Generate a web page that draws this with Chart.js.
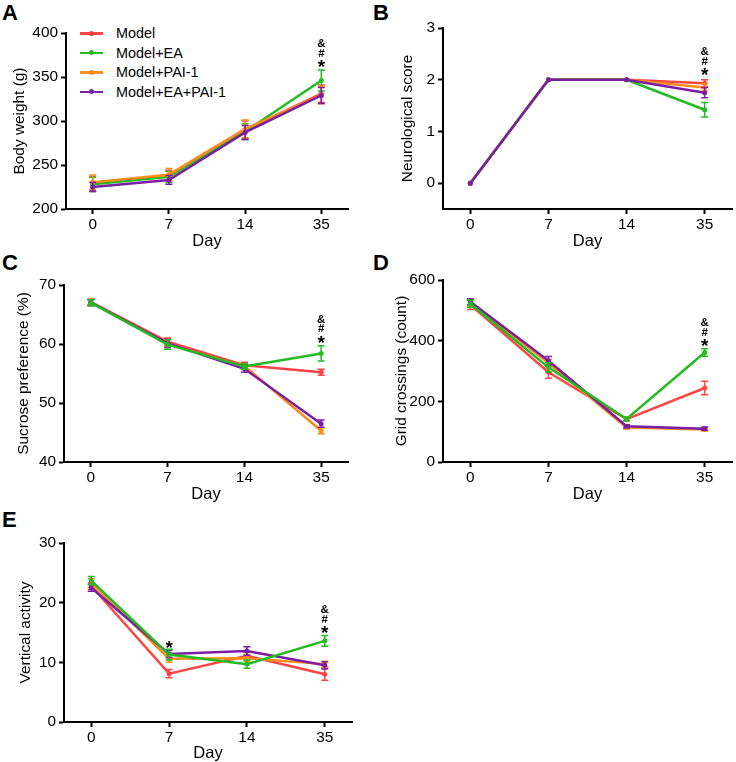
<!DOCTYPE html>
<html>
<head>
<meta charset="utf-8">
<script src="https://cdn.jsdelivr.net/npm/chart.js@4.4.1/dist/chart.umd.min.js"></script>
<style>
  body { margin: 0; background: #fff; width: 736px; height: 762px; position: relative; overflow: hidden;
         font-family: "Liberation Sans", Arial, sans-serif; }
  canvas { position: absolute; }
  .tag { position: absolute; font-weight: bold; font-size: 22px; line-height: 1; color: #000; }
  .leg { position: absolute; font-size: 14.4px; line-height: 1; color: #000; white-space: nowrap; }
  .leg i { position: absolute; left: -36px; top: 6px; width: 23px; height: 2.5px; }
  .leg b { position: absolute; left: -27px; top: 4.5px; width: 5px; height: 5px; border-radius: 50%; }
</style>
</head>
<body>
<div class="tag" style="left:2px;top:2px">A</div>
<div class="tag" style="left:373px;top:2px">B</div>
<div class="tag" style="left:2px;top:252px">C</div>
<div class="tag" style="left:373px;top:252px">D</div>
<div class="tag" style="left:2px;top:509px">E</div>
<div id="legend"></div>
<script>
// ---- data ----
var days = ['0', '7', '14', '35'];
var seriesNames = ['Model', 'Model+EA', 'Model+PAI-1', 'Model+EA+PAI-1'];
var seriesColors = ['#ff4444', '#22bb22', '#ff8c1a', '#7b1fa2'];

// rows = series (Model, Model+EA, Model+PAI-1, Model+EA+PAI-1), cols = days
var weightMean = [[229, 238, 290, 331], [228, 236.5, 288, 346], [230.5, 239, 291, 329.5], [225, 233, 287, 329]];
var weightSem  = [[8, 6, 10, 10], [8, 6, 9, 12], [8, 7, 10, 10], [5, 5, 8, 9]];
var weightTicks = [200, 250, 300, 350, 400];

var neuroMean = [[0, 2, 2, 1.93], [0, 2, 2, 1.42], [0, 2, 2, 1.85], [0, 2, 2, 1.75]];
var neuroSem  = [[0, 0, 0, 0.07], [0, 0, 0, 0.14], [0, 0, 0, 0.07], [0, 0, 0, 0.1]];
var neuroTicks = [0, 1, 2, 3];

var sucroseMean = [[67.1, 60.4, 56.4, 55.2], [67.0, 59.9, 56.2, 58.4], [67.1, 60.2, 56.3, 45.3], [67.0, 60.1, 55.8, 46.5]];
var sucroseSem  = [[0.5, 0.6, 0.5, 0.5], [0.5, 0.8, 0.5, 1.3], [0.5, 0.6, 0.5, 0.5], [0.5, 0.7, 0.6, 0.6]];
var sucroseTicks = [40, 50, 60, 70];

var gridMean = [[518, 296, 141, 244], [522, 312, 142, 361], [525, 326, 114, 107], [528, 334, 118, 110]];
var gridSem  = [[15, 20, 5, 22], [12, 15, 6, 12], [12, 12, 5, 5], [10, 14, 5, 5]];
var gridTicks = [0, 200, 400, 600];

var vertMean = [[22.8, 8.1, 11.1, 8.0], [23.7, 11.3, 9.7, 13.6], [23.3, 10.6, 10.7, 9.7], [22.5, 11.4, 11.9, 9.5]];
var vertSem  = [[0.6, 0.7, 0.6, 1.0], [0.7, 0.9, 0.7, 0.9], [0.7, 0.6, 0.5, 0.5], [0.6, 0.6, 0.7, 0.6]];
var vertTicks = [0, 10, 20, 30];

// significance marks: day index, anchor value, symbols bottom->top
var weightMarks  = [{ day: 3, y: 366, marks: ['*', '#', '&'] }];
var neuroMarks   = [{ day: 3, y: 2.17, marks: ['*', '#', '&'] }];
var sucroseMarks = [{ day: 3, y: 61, marks: ['*', '#', '&'] }];
var gridMarks    = [{ day: 3, y: 397, marks: ['*', '#', '&'] }];
var vertMarks    = [{ day: 1, y: 13.1, marks: ['*'] }, { day: 3, y: 15.6, marks: ['*', '#', '&'] }];

// ---- plugins ----
var errorBars = {
  id: 'errorBars',
  afterDatasetDraw: function (chart, args) {
    var ds = chart.data.datasets[args.index];
    var ctx = chart.ctx, y = chart.scales.y;
    ctx.save();
    ctx.strokeStyle = ds.borderColor;
    ctx.lineWidth = 1.5;
    args.meta.data.forEach(function (pt, i) {
      var s = ds.sem[i];
      if (!s) return;
      var v = ds.data[i].y;
      var t = y.getPixelForValue(v + s), b = y.getPixelForValue(v - s);
      ctx.beginPath();
      ctx.moveTo(pt.x, t); ctx.lineTo(pt.x, b);
      ctx.moveTo(pt.x - 3.5, t); ctx.lineTo(pt.x + 3.5, t);
      ctx.moveTo(pt.x - 3.5, b); ctx.lineTo(pt.x + 3.5, b);
      ctx.stroke();
    });
    ctx.restore();
  }
};

var sigMarks = {
  id: 'sigMarks',
  afterDatasetsDraw: function (chart, args, opts) {
    var ctx = chart.ctx;
    ctx.save();
    ctx.fillStyle = '#000';
    ctx.textAlign = 'center';
    ctx.textBaseline = 'alphabetic';
    (opts.list || []).forEach(function (m) {
      var x = chart.scales.x.getPixelForValue(m.day);
      var y = chart.scales.y.getPixelForValue(m.y);
      m.marks.forEach(function (sym, k) {
        if (sym === '*') {
          ctx.font = 'bold 19px "Liberation Sans", Arial, sans-serif';
          ctx.fillText(sym, x, y + 10.5);
        } else {
          ctx.font = 'bold 11.5px "Liberation Sans", Arial, sans-serif';
          ctx.fillText(sym, x, y + 4 - k * 9.8);
        }
      });
    });
    ctx.restore();
  }
};

// ---- panels ----
var FONT = '"Liberation Sans", Arial, sans-serif';
var panels = [
  { mean: weightMean, sem: weightSem, ticks: weightTicks, min: 200, max: 400, title: 'Body weight (g)',
    box: [0, 0, 360, 250], area: { left: 66, top: 33, right: 348, bottom: 209 }, titlePad: 11,
    order: [4, 3, 2, 1], marks: weightMarks },
  { mean: neuroMean, sem: neuroSem, ticks: neuroTicks, min: -0.5, max: 3, title: 'Neurological score',
    box: [370, 0, 366, 250], area: { left: 443, top: 28, right: 733, bottom: 209 }, titlePad: 29,
    order: [4, 2, 3, 1], marks: neuroMarks },
  { mean: sucroseMean, sem: sucroseSem, ticks: sucroseTicks, min: 40, max: 70, title: 'Sucrose preference (%)',
    box: [0, 250, 360, 253], area: { left: 64, top: 285, right: 348, bottom: 462 }, titlePad: 15,
    order: [3, 1, 4, 2], marks: sucroseMarks },
  { mean: gridMean, sem: gridSem, ticks: gridTicks, min: 0, max: 600, title: 'Grid crossings (count)',
    box: [370, 250, 366, 253], area: { left: 443, top: 280, right: 733, bottom: 462 }, titlePad: 23,
    order: [4, 1, 3, 2], marks: gridMarks },
  { mean: vertMean, sem: vertSem, ticks: vertTicks, min: 0, max: 30, title: 'Vertical activity',
    box: [0, 505, 360, 257], area: { left: 64, top: 543, right: 352, bottom: 722 }, titlePad: 17,
    order: [4, 1, 3, 2], marks: vertMarks }
];

function axisStyle() {
  return {
    grid: { display: true, drawOnChartArea: false, drawTicks: true, tickLength: 5, tickWidth: 2, tickColor: '#000' },
    border: { display: true, color: '#000', width: 2 }
  };
}

function makeChart(p) {
  var L = p.box[0], T = p.box[1], W = p.box[2], H = p.box[3], a = p.area;
  var canvas = document.createElement('canvas');
  canvas.width = W; canvas.height = H;
  canvas.style.left = L + 'px'; canvas.style.top = T + 'px';
  document.body.appendChild(canvas);

  var xs = axisStyle(), ys = axisStyle();
  new Chart(canvas.getContext('2d'), {
    type: 'line',
    data: {
      datasets: seriesNames.map(function (name, s) {
        return {
          label: name,
          data: p.mean[s].map(function (v, i) { return { x: i, y: v }; }),
          sem: p.sem[s],
          borderColor: seriesColors[s],
          backgroundColor: seriesColors[s],
          borderWidth: 2.5,
          pointRadius: 2.5,
          pointBorderWidth: 0,
          tension: 0,
          order: p.order[s]
        };
      })
    },
    options: {
      responsive: false,
      animation: false,
      devicePixelRatio: 1,
      events: [],
      layout: { padding: { top: a.top - T, right: L + W - a.right, left: 0, bottom: 0 } },
      plugins: { legend: { display: false }, tooltip: { enabled: false }, sigMarks: { list: p.marks } },
      scales: {
        x: {
          type: 'linear', min: -0.35, max: 3.35,
          afterBuildTicks: function (s) { s.ticks = days.map(function (d, i) { return { value: i }; }); },
          afterFit: function (s) { s.height = T + H - a.bottom; },
          ticks: { callback: function (v) { return days[v]; }, color: '#000', font: { family: FONT, size: 15.4 },
                   padding: 2, autoSkip: false, maxRotation: 0 },
          grid: xs.grid, border: xs.border,
          title: { display: true, text: 'Day', color: '#000', font: { family: FONT, size: 16.5 }, padding: { top: 0, bottom: -1 } }
        },
        y: {
          min: p.min, max: p.max,
          afterBuildTicks: function (s) { s.ticks = p.ticks.map(function (v) { return { value: v }; }); },
          afterFit: function (s) { s.width = a.left - L; },
          ticks: { color: '#000', font: { family: FONT, size: 15.4 }, padding: 3 },
          grid: ys.grid, border: ys.border,
          title: { display: true, text: p.title, color: '#000', font: { family: FONT, size: 15.4 }, padding: { top: p.titlePad, bottom: 0 } }
        }
      }
    },
    plugins: [errorBars, sigMarks]
  });
}

panels.forEach(makeChart);

// legend inside panel A
var legend = document.getElementById('legend');
seriesNames.forEach(function (name, s) {
  var d = document.createElement('div');
  d.className = 'leg';
  d.style.left = '116px';
  d.style.top = (26 + s * 19.6) + 'px';
  d.innerHTML = '<i style="background:' + seriesColors[s] + '"></i><b style="background:' + seriesColors[s] + '"></b>' + name;
  legend.appendChild(d);
});
</script>
</body>
</html>
